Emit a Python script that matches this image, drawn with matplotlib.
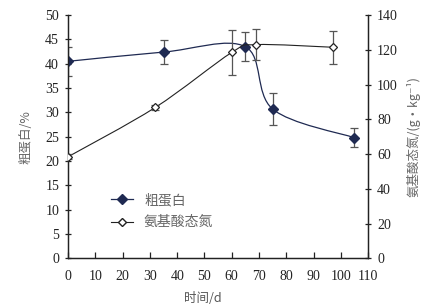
import numpy as np
import matplotlib
matplotlib.use("Agg")
import matplotlib.pyplot as plt
from matplotlib.path import Path
from matplotlib.patches import PathPatch

plt.rcParams['font.family'] = 'serif'
plt.rcParams['font.serif'] = ['Liberation Serif', 'Times New Roman', 'DejaVu Serif']

# crude protein (%), left axis
cp_days = [0, 35, 65, 75, 105]
cp_vals = [40.5, 42.4, 43.5, 30.7, 24.8]
cp_err = [3.0, 2.5, 3.0, 3.3, 1.9]

# amino acid nitrogen (g/kg), right axis
an_days = [0, 32, 60, 69, 97]
an_vals = [58.5, 86.9, 118.5, 123.0, 121.5]
an_err = [1.5, 1.5, 13.0, 9.0, 9.4]

x_ticks = list(range(0, 111, 10))
left_ticks = list(range(0, 51, 5))
right_ticks = list(range(0, 141, 20))

cjk = ['Noto Sans CJK SC', 'DejaVu Sans']
navy = '#1f2a52'


def smooth_path(xs, ys):
    # Excel-style smoothed line: cubic bezier through the points
    p = np.column_stack([xs, ys]).astype(float)
    n = len(p)
    verts = [p[0]]
    codes = [Path.MOVETO]
    for i in range(n - 1):
        p0 = p[i - 1] if i > 0 else p[i]
        p3 = p[i + 2] if i + 2 < n else p[i + 1]
        c1 = p[i] + (p[i + 1] - p0) / 6
        c2 = p[i + 1] - (p3 - p[i]) / 6
        verts += [c1, c2, p[i + 1]]
        codes += [Path.CURVE4] * 3
    return Path(verts, codes)


fig = plt.figure(figsize=(4.34, 3.08), dpi=100)
ax = fig.add_axes([0.157, 0.161, 0.691, 0.79])
ax2 = ax.twinx()

ax.add_patch(PathPatch(smooth_path(cp_days, cp_vals), fill=False, ec=navy, lw=0.9))
ax.errorbar(cp_days, cp_vals, yerr=cp_err, fmt='none', ecolor='#555555', elinewidth=0.9, capsize=3, capthick=0.9)
ax.plot(cp_days, cp_vals, ls='none', marker='D', ms=5, mfc=navy, mec=navy, zorder=5)

ax2.add_patch(PathPatch(smooth_path(an_days, an_vals), fill=False, ec='#222222', lw=0.8))
ax2.errorbar(an_days, an_vals, yerr=an_err, fmt='none', ecolor='#555555', elinewidth=0.9, capsize=3, capthick=0.9)
ax2.plot(an_days, an_vals, ls='none', marker='D', ms=4, mfc='white', mec='#222222', mew=0.9, zorder=5)

ax.set_xlim(0, 110)
ax.set_ylim(0, 50)
ax2.set_ylim(0, 140)
ax.set_xticks(x_ticks)
ax.set_yticks(left_ticks)
ax2.set_yticks(right_ticks)

for a in (ax, ax2):
    a.spines['top'].set_visible(False)
    for s in a.spines.values():
        s.set_color('#222222')
        s.set_linewidth(0.9)
ax.tick_params(axis='x', direction='in', length=4, width=0.9, labelsize=10, colors='#222222', pad=8)
ax.tick_params(axis='y', direction='inout', length=5, width=0.9, labelsize=10, colors='#222222', pad=4)
ax2.tick_params(axis='y', direction='inout', length=5, width=0.9, labelsize=10, colors='#222222', pad=4)

ax.set_xlabel('时间/d', family=cjk, fontsize=9, color='#555555')
ax.xaxis.set_label_coords(0.45, -0.14)
ax.set_ylabel('粗蛋白/%', family=cjk, fontsize=9, color='#666666')
ax.yaxis.set_label_coords(-0.12, 0.5)
ax2.set_ylabel('氨基酸态氮/(g·kg⁻¹)', family=cjk, fontsize=9, color='#666666')
ax2.yaxis.set_label_coords(1.13, 0.5)

h1, = ax.plot([], [], color=navy, lw=0.9, marker='D', ms=5, mfc=navy, mec=navy)
h2, = ax.plot([], [], color='#222222', lw=0.8, marker='D', ms=4, mfc='white', mec='#222222')
leg = ax.legend([h1, h2], ['粗蛋白', '氨基酸态氮'], loc='upper left', bbox_to_anchor=(0.1, 0.32),
                frameon=False, prop={'family': cjk, 'size': 10}, handlelength=1.6, labelspacing=0.6)
for t in leg.get_texts():
    t.set_color('#666666')

fig.savefig('out.png', dpi=100)
